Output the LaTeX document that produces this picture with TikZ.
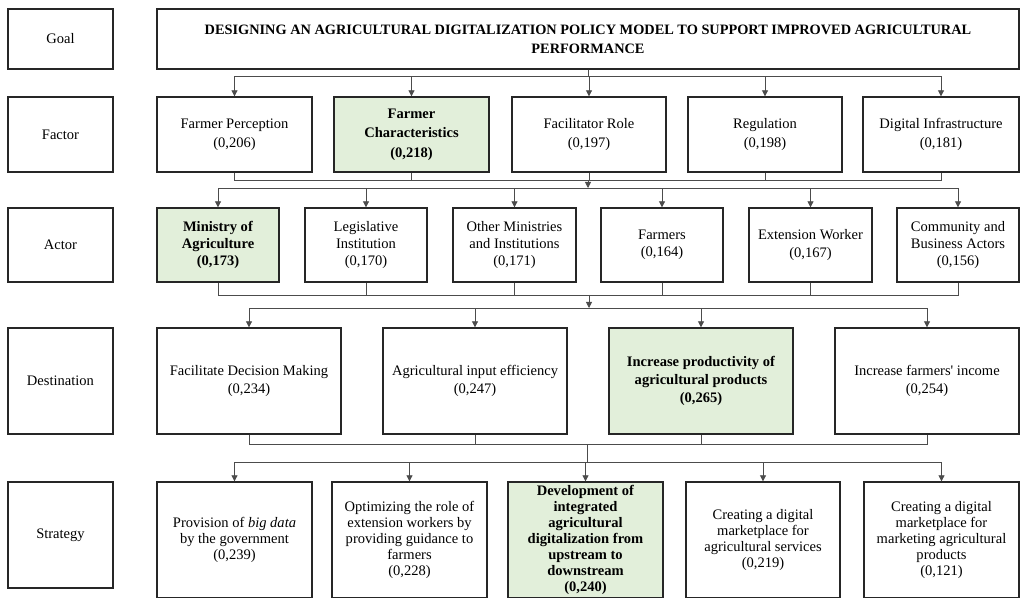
\documentclass[tikz,border=0pt]{standalone}
\usepackage{fontspec}
\setmainfont{Liberation Serif}[Ligatures=TeXOff]
\usetikzlibrary{arrows.meta}
\definecolor{hl}{RGB}{226,239,218}
\begin{document}
\begin{tikzpicture}[x=0.75pt,y=-0.75pt,
  box/.style={draw=black!85, line width=1pt, inner sep=0pt, align=center, font=\fontsize{10.9}{14}\selectfont},
  place/.style n args={4}{minimum width={(#3-#1)*0.75pt}, minimum height={(#4-#2)*0.75pt}, at={({(#1+#3)/2},{(#2+#4)/2})}},
  hlbox/.style={fill=hl},
  rowfactor/.style={font=\fontsize{10.9}{14.5}\selectfont},
  rowactor/.style={font=\fontsize{10.9}{12.8}\selectfont},
  rowdest/.style={font=\fontsize{10.9}{13.3}\selectfont},
  rowstrat/.style={font=\fontsize{10.9}{11.9}\selectfont},
  conn/.style={draw=black!70, line width=0.6pt},
  arr/.style={conn, -{Triangle[width=4.5pt,length=4.5pt]}}]
\useasboundingbox (0,0) rectangle (1023,598);
\clip (0,0) rectangle (1023,598);
% level labels
\node[box, place={8}{9}{113}{69}] (lgoal) {Goal};
\node[box, place={8}{97}{113}{172}] (lfactor) {Factor};
\node[box, place={8}{208}{113}{282}] (lactor) {Actor};
\node[box, place={8}{328}{113}{434}] (ldest) {Destination};
\node[box, place={8}{482}{113}{588}] (lstrat) {Strategy};
% goal
\node[box, font=\fontsize{10.75}{14}\selectfont, place={157}{9}{1019}{69}] (goal) {\textbf{DESIGNING AN AGRICULTURAL DIGITALIZATION POLICY MODEL TO SUPPORT IMPROVED AGRICULTURAL}\\\textbf{PERFORMANCE}};
% factors
\node[box, rowfactor, place={157}{97}{312}{172}] (f1) {Farmer Perception\\(0,206)};
\node[box, rowfactor, hlbox, place={334}{97}{489}{172}] (f2) {\textbf{Farmer}\\\textbf{Characteristics}\\\textbf{(0,218)}};
\node[box, rowfactor, place={512}{97}{666}{172}] (f3) {Facilitator Role\\(0,197)};
\node[box, rowfactor, place={688}{97}{842}{172}] (f4) {Regulation\\(0,198)};
\node[box, rowfactor, place={863}{97}{1019}{172}] (f5) {Digital Infrastructure\\(0,181)};
% actors
\node[box, rowactor, hlbox, place={157}{208}{279}{282}] (a1) {\textbf{Ministry of}\\\textbf{Agriculture}\\\textbf{(0,173)}};
\node[box, rowactor, place={305}{208}{427}{282}] (a2) {Legislative\\Institution\\(0,170)};
\node[box, rowactor, place={453}{208}{576}{282}] (a3) {Other Ministries\\and Institutions\\(0,171)};
\node[box, rowactor, place={601}{208}{723}{282}] (a4) {Farmers\\(0,164)};
\node[box, rowactor, place={749}{208}{872}{282}] (a5) {Extension Worker\\(0,167)};
\node[box, rowactor, place={897}{208}{1019}{282}] (a6) {Community and\\Business Actors\\(0,156)};
% destinations
\node[box, rowdest, place={157}{328}{341}{434}] (d1) {Facilitate Decision Making\\(0,234)};
\node[box, rowdest, place={383}{328}{567}{434}] (d2) {Agricultural input efficiency\\(0,247)};
\node[box, rowdest, hlbox, place={609}{328}{793}{434}] (d3) {\textbf{Increase productivity of}\\\textbf{agricultural products}\\\textbf{(0,265)}};
\node[box, rowdest, place={835}{328}{1019}{434}] (d4) {Increase farmers' income\\(0,254)};
% strategies
\node[box, rowstrat, place={157}{482}{312}{598}] (s1) {Provision of \textit{big data}\\by the government\\(0,239)};
\node[box, rowstrat, place={332}{482}{487}{598}] (s2) {Optimizing the role of\\extension workers by\\providing guidance to\\farmers\\(0,228)};
\node[box, rowstrat, hlbox, place={508}{482}{663}{598}] (s3) {\textbf{Development of}\\\textbf{integrated}\\\textbf{agricultural}\\\textbf{digitalization from}\\\textbf{upstream to}\\\textbf{downstream}\\\textbf{(0,240)}};
\node[box, rowstrat, place={686}{482}{840}{598}] (s4) {Creating a digital\\marketplace for\\agricultural services\\(0,219)};
\node[box, rowstrat, place={864}{482}{1019}{598}] (s5) {Creating a digital\\marketplace for\\marketing agricultural\\products\\(0,121)};
% goal -> factors
\coordinate (b1) at (0,76);
\foreach \n in {f1,f2,f3,f4,f5}
  \draw[arr] (goal.south) -- (goal.south |- b1) -| (\n.north);
% factors -> actors
\coordinate (m1) at (588,180);
\coordinate (j1) at (588,188);
\foreach \n in {f1,f2,f3,f4,f5}
  \draw[conn] (\n.south) |- (m1);
\draw[arr] (m1) -- (j1);
\foreach \n in {a1,a2,a3,a4,a5,a6}
  \draw[arr] (j1) -| (\n.north);
% actors -> destinations
\coordinate (m2) at (589,295);
\coordinate (j2) at (589,308);
\foreach \n in {a1,a2,a3,a4,a5,a6}
  \draw[conn] (\n.south) |- (m2);
\draw[arr] (m2) -- (j2);
\foreach \n in {d1,d2,d3,d4}
  \draw[arr] (j2) -| (\n.north);
% destinations -> strategies
\coordinate (m3) at (587,444);
\coordinate (j3) at (587,462);
\foreach \n in {d1,d2,d3,d4}
  \draw[conn] (\n.south) |- (m3);
\draw[conn] (m3) -- (j3);
\foreach \n in {s1,s2,s3,s4,s5}
  \draw[arr] (j3) -| (\n.north);
\end{tikzpicture}
\end{document}
